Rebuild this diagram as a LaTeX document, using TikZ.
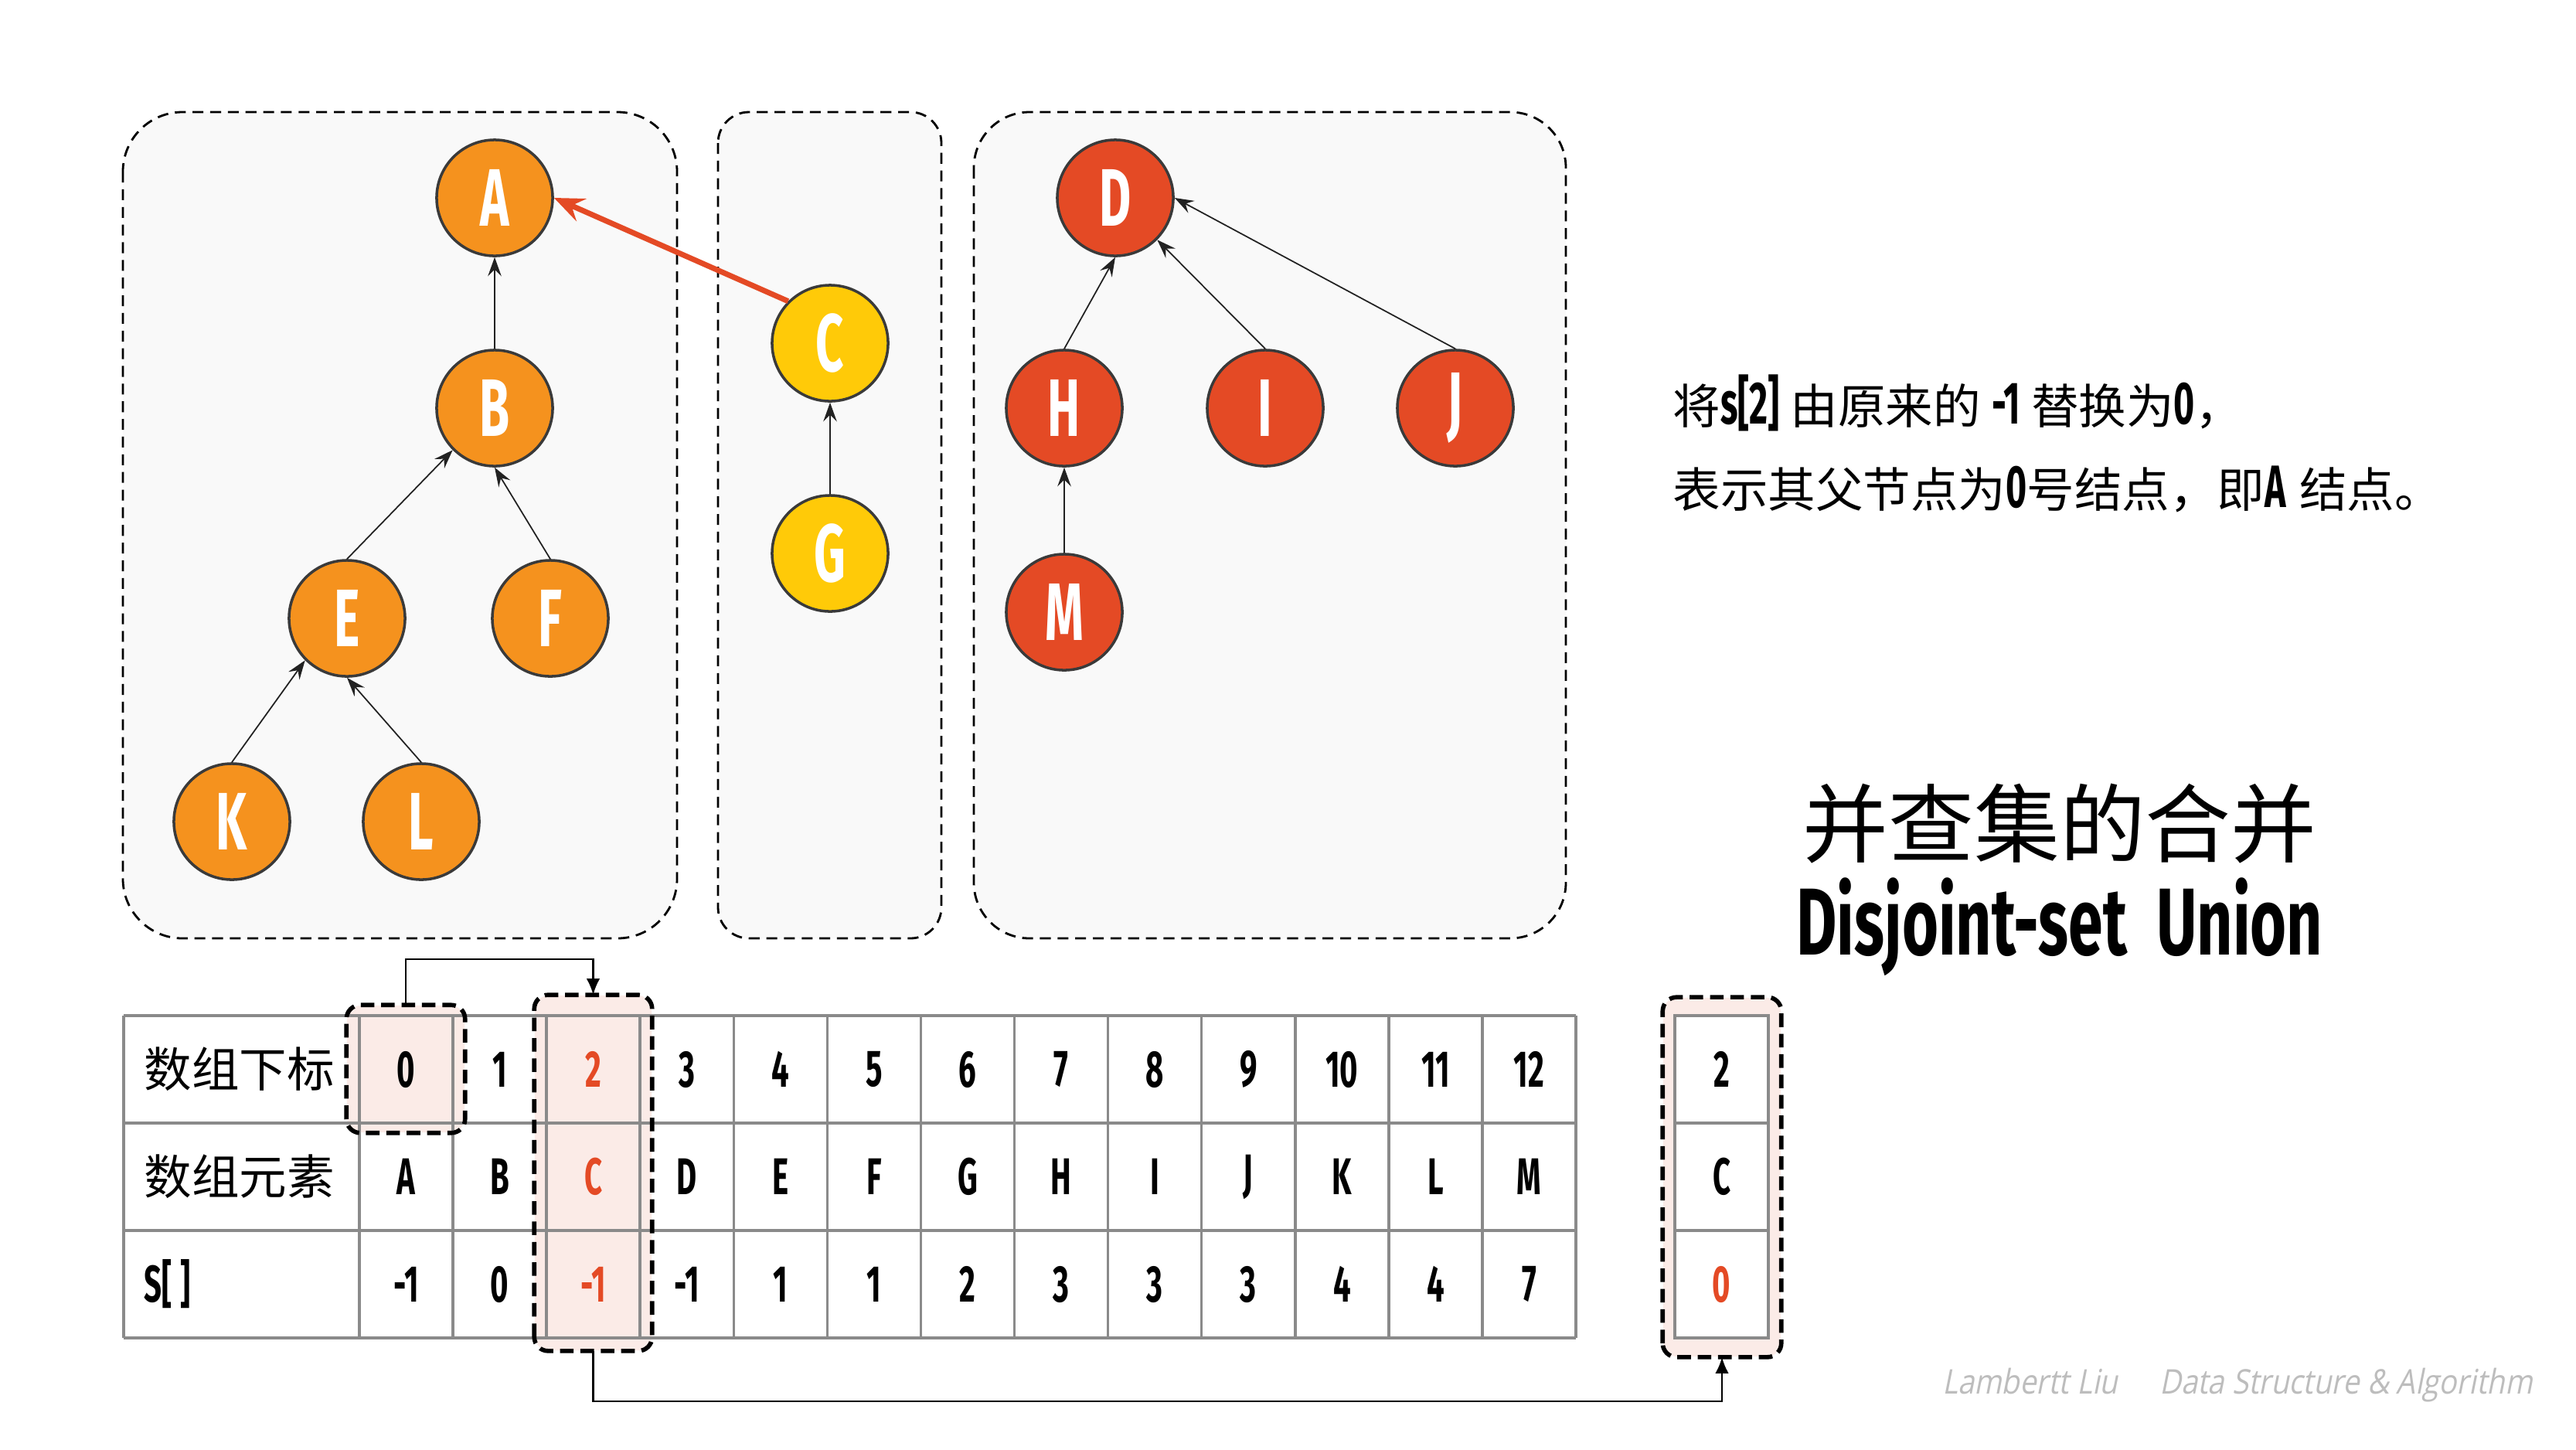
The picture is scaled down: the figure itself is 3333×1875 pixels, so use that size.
\documentclass[tikz,border=0pt]{standalone}
\usepackage{fontspec}
\usetikzlibrary{arrows.meta}
\newfontfamily\cjk{Noto Sans CJK SC}
\newfontfamily\cond[FakeStretch=0.6]{Fira Sans}
\newfontfamily\wmfont[FakeStretch=0.87,FakeSlant=0.2]{Open Sans}
\newcommand\latbit[1]{{\cond\bfseries\fontsize{22}{22}\selectfont #1}}
\definecolor{orangec}{HTML}{F5921E}
\definecolor{yellowc}{HTML}{FFCA08}
\definecolor{redc}{HTML}{E44A25}
\definecolor{nodeborder}{HTML}{3A3A3A}
\definecolor{boxfill}{HTML}{F9F9F9}
\definecolor{pinkc}{HTML}{FBEBE7}
\definecolor{gridc}{HTML}{8A8A8A}
\definecolor{edgec}{HTML}{222222}
\definecolor{wmc}{HTML}{BDBDBD}
\begin{document}
\begin{tikzpicture}[x=0.01cm,y=-0.01cm,
  tn/.style={circle, draw=nodeborder, line width=1pt, minimum size=1.5cm, inner sep=0pt, text=white, font=\cond\bfseries\fontsize{30}{30}\selectfont},
  onode/.style={tn, fill=orangec},
  ynode/.style={tn, fill=yellowc},
  rnode/.style={tn, fill=redc},
  edge/.style={draw=edgec, line width=0.5pt, -{Stealth[length=7pt,width=5pt,inset=2.5pt]}},
  redarrow/.style={draw=redc, line width=2pt, -{Stealth[length=11pt,width=9pt,inset=4pt]}},
  bigbox/.style={draw=black, fill=boxfill, line width=0.8pt, dash pattern=on 4pt off 2.5pt},
  hlfill/.style={fill=pinkc, rounded corners=0.18cm, inner sep=0pt},
  hldash/.style={draw=black, line width=1.6pt, dash pattern=on 5pt off 2.5pt, rounded corners=0.18cm},
  grid/.style={draw=gridc, line width=1pt},
  cell/.style={inner sep=0pt, font=\cond\bfseries\fontsize{19}{19}\selectfont},
  lab/.style={inner sep=0pt, anchor=west, font=\cjk\fontsize{17.5}{17.5}\selectfont},
  tarrow/.style={draw=black, line width=0.7pt, -{Latex[length=6pt,width=5pt]}}
]
\useasboundingbox (0,0) rectangle (3333,1875);
\fill[white] (0,0) rectangle (3333,1875);

% group boxes
\draw[bigbox, rounded corners=0.77cm] (159,145) rectangle (876,1214);
\draw[bigbox, rounded corners=0.4cm] (929,145) rectangle (1218,1214);
\draw[bigbox, rounded corners=0.72cm] (1260,145) rectangle (2026,1214);

% tree nodes
\node[onode] (A) at (640,256) {A};
\node[onode] (B) at (640,528) {B};
\node[ynode] (C) at (1074,444) {C};
\node[ynode] (G) at (1074,716) {G};
\node[onode] (E) at (449,800) {E};
\node[onode] (F) at (712,800) {F};
\node[onode] (K) at (300,1063) {K};
\node[onode] (L) at (545,1063) {L};
\node[rnode] (D) at (1443,256) {D};
\node[rnode] (H) at (1377,528) {H};
\node[rnode] (I) at (1637,528) {I};
\node[rnode] (J) at (1883,528) {J};
\node[rnode] (M) at (1377,792) {M};

\draw[edge] (B.north) -- (A.south);
\draw[edge] (E.north) -- (B.south west);
\draw[edge] (F.north) -- (B.south);
\draw[edge] (K.north) -- (E.south west);
\draw[edge] (L.north) -- (E.south);
\draw[edge] (G.north) -- (C.south);
\draw[edge] (H.north) -- (D.south);
\draw[edge] (I.north) -- (D.south east);
\draw[edge] (J.north) -- (D.east);
\draw[edge] (M.north) -- (H.south);
\draw[redarrow] (C.north west) -- (A.east);

% explanation text
\node[anchor=west, inner sep=0pt, font=\cjk\fontsize{17.5}{17.5}\selectfont] (t1) at (2164,521)
  {将\latbit{s[2]}\hspace{4pt}由原来的\hspace{4pt}\latbit{-1}\hspace{4pt}替换为\latbit{0}，};
\node[anchor=west, inner sep=0pt, font=\cjk\fontsize{17.5}{17.5}\selectfont] (t2) at (2164,633)
  {表示其父节点为\latbit{0}号结点，即\latbit{A}\hspace{5pt}结点。};

% title
\node[inner sep=0pt, font=\cjk\fontsize{31.5}{31.5}\selectfont] (title) at (2665,1066) {并查集的合并};
\node[inner sep=0pt, font=\cond\bfseries\fontsize{35}{35}\selectfont] (subtitle) at (2665,1199) {\scalebox{1.09}[1]{Disjoint-set\ \ Union}};

% highlight fills
\node[hlfill, minimum width=1.52cm, minimum height=1.64cm] (h0) at (525,1383) {};
\node[hlfill, minimum width=1.51cm, minimum height=4.59cm] (h2) at (767.5,1517.5) {};
\node[hlfill, minimum width=1.52cm, minimum height=4.64cm] (hr) at (2228,1523) {};

% right column cells
\fill[white] (2167,1314) rectangle (2288,1731);
\draw[grid] (2167,1314) rectangle (2288,1731);
\draw[grid] (2167,1453) -- (2288,1453);
\draw[grid] (2167,1592) -- (2288,1592);
\node[cell] (rc1) at (2227.5,1383.5) {2};
\node[cell] (rc2) at (2227.5,1522.5) {C};
\node[cell, text=redc] (rc3) at (2227.5,1661.5) {0};

% main table grid
\foreach \yy in {1314,1453,1592,1731} \draw[grid] (160,\yy) -- (2039,\yy);
\draw[grid] (160,1314) -- (160,1731);
\foreach \k in {0,...,13} \draw[grid] ({465+121.08*\k},1314) -- ({465+121.08*\k},1731);

\node[lab] (l1) at (186,1383.5) {数组下标};
\node[lab] (l2) at (186,1522.5) {数组元素};
\node[cell, anchor=west] (l3) at (186,1661.5) {S[\,]};

\foreach \v [count=\i from 0] in {0,1,{\color{redc}2},3,4,5,6,7,8,9,10,11,12}
  \node[cell] (ra\i) at ({465+121.08*(\i+0.5)},1383.5) {\v};
\foreach \v [count=\i from 0] in {A,B,{\color{redc}C},D,E,F,G,H,I,J,K,L,M}
  \node[cell] (rb\i) at ({465+121.08*(\i+0.5)},1522.5) {\v};
\foreach \v [count=\i from 0] in {-1,0,{\color{redc}-1},-1,1,1,2,3,3,3,4,4,7}
  \node[cell] (rs\i) at ({465+121.08*(\i+0.5)},1661.5) {\v};

% dashed highlight borders
\draw[hldash] (h0.south west) rectangle (h0.north east);
\draw[hldash] (h2.south west) rectangle (h2.north east);
\draw[hldash] (hr.south west) rectangle (hr.north east);

% connectors
\coordinate (tb) at (767.5,1241);
\coordinate (bb) at (2228,1813);
\draw[tarrow] (h0.north) |- (tb) -- (h2.north);
\draw[tarrow] (h2.south) |- (bb) -- (hr.south);

% watermark
\node[inner sep=0pt, text=wmc, font=\wmfont\fontsize{12.5}{12.5}\selectfont] (wm) at (2895,1792) {Lambertt Liu\quad\ Data Structure \& Algorithm};
\end{tikzpicture}
\end{document}
